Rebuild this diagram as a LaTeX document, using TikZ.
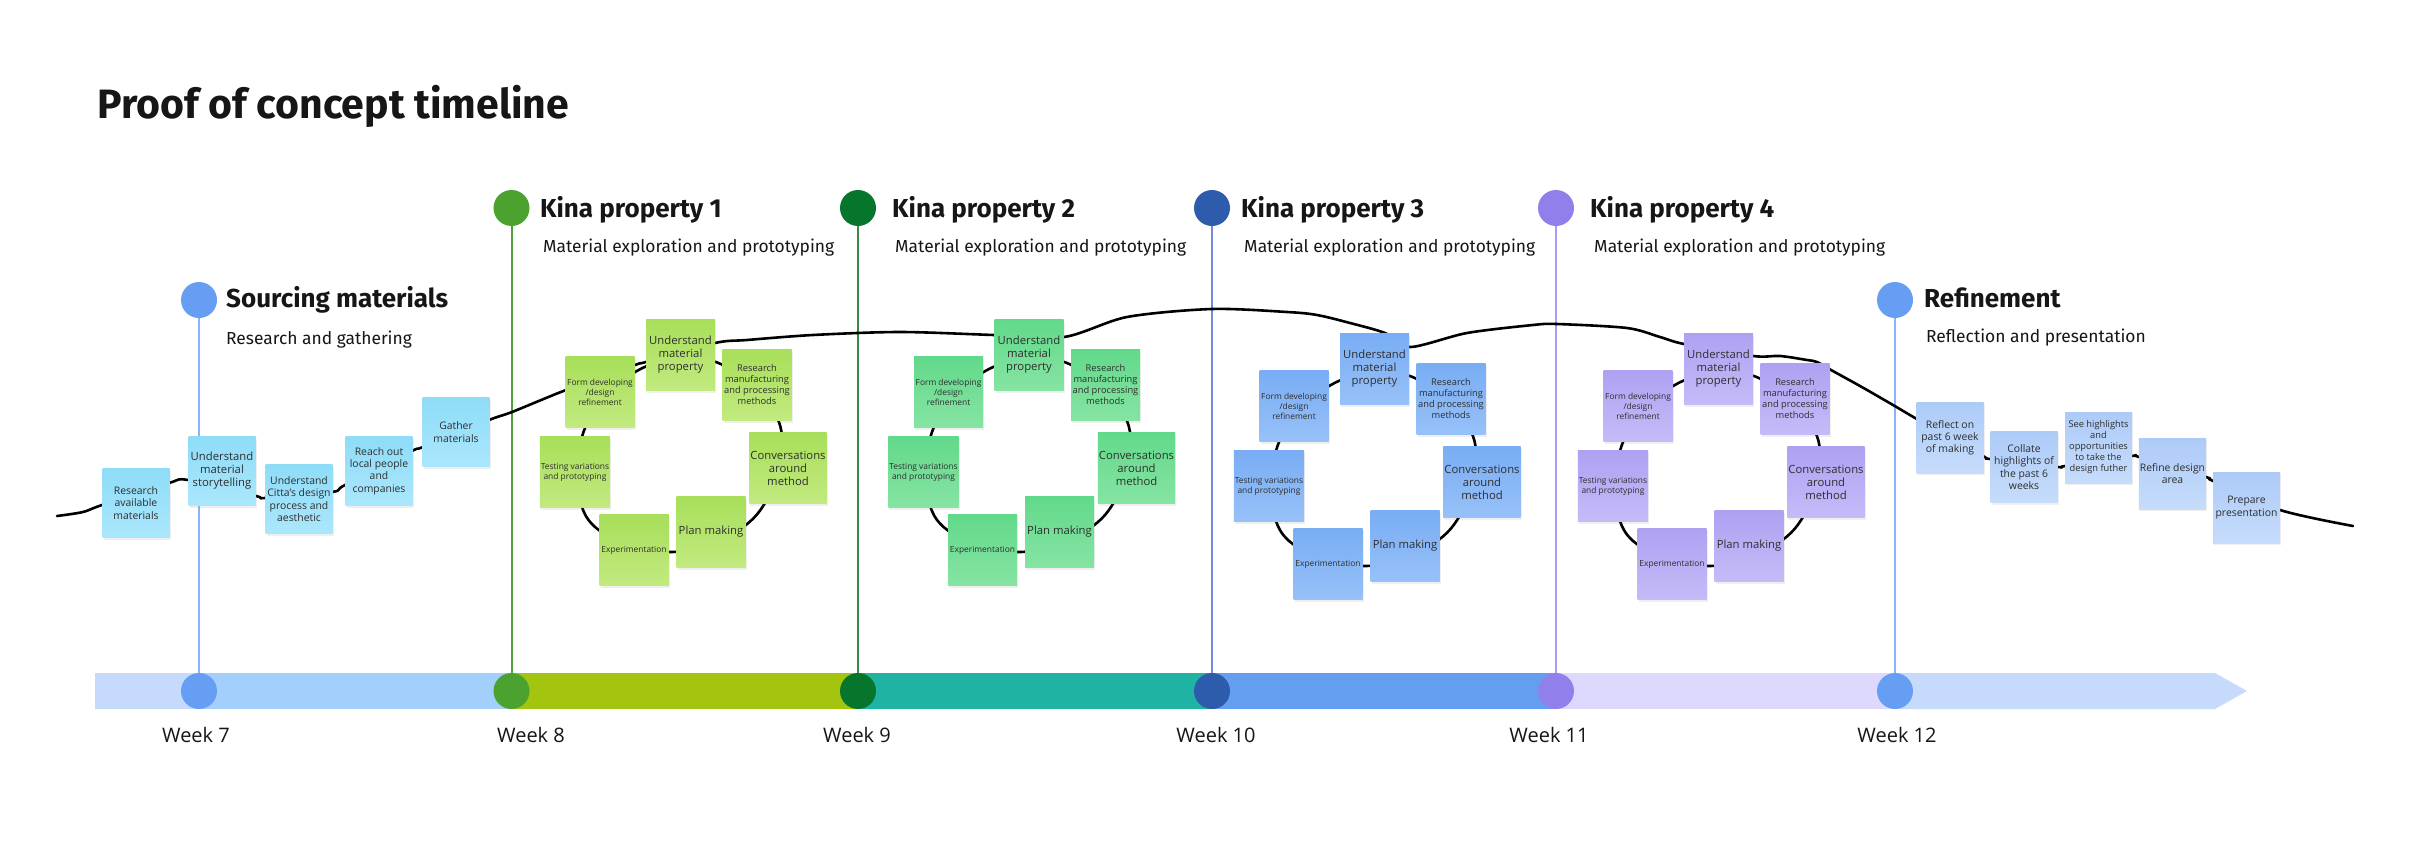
\documentclass[tikz,border=0pt]{standalone}
\usepackage{fontspec}
\setmainfont{Open Sans}
\newfontfamily\headfont{Fira Sans}
\usetikzlibrary{shadows}

\definecolor{notetext}{HTML}{2E2E2E}
\definecolor{headtext}{HTML}{161616}
\definecolor{srcT}{HTML}{8EDCF8}\definecolor{srcB}{HTML}{ABE7FC}
\definecolor{kaT}{HTML}{A8DF5A}\definecolor{kaB}{HTML}{C2EA80}
\definecolor{kbT}{HTML}{62D98A}\definecolor{kbB}{HTML}{86E4A3}
\definecolor{kcT}{HTML}{79ADF4}\definecolor{kcB}{HTML}{97C1F8}
\definecolor{kdT}{HTML}{AEA1F2}\definecolor{kdB}{HTML}{C6BBF8}
\definecolor{refT}{HTML}{ADCBF8}\definecolor{refB}{HTML}{C6DCFB}
\definecolor{barA}{HTML}{C6DBFC}
\definecolor{barB}{HTML}{A3CFFD}
\definecolor{barC}{HTML}{A3C510}
\definecolor{barD}{HTML}{1FB3A3}
\definecolor{barE}{HTML}{649EF0}
\definecolor{barF}{HTML}{DDD9FE}
\definecolor{dotA}{HTML}{659EF2}
\definecolor{dotB}{HTML}{4BA22E}
\definecolor{dotC}{HTML}{06762C}
\definecolor{dotD}{HTML}{2E5CAD}
\definecolor{dotE}{HTML}{9180EC}
\definecolor{lineA}{HTML}{8AB4F8}
\definecolor{lineB}{HTML}{4CA33A}
\definecolor{lineC}{HTML}{3B8A47}
\definecolor{lineD}{HTML}{6F8CD8}
\definecolor{lineE}{HTML}{A99CF0}

\tikzset{
  notebase/.style={rectangle, minimum width=69pt, minimum height=71pt, inner sep=1pt,
    align=center, text=notetext,
    drop shadow={shadow xshift=1pt, shadow yshift=-2pt, opacity=0.12}},
  srcnote/.style={notebase, minimum width=67pt, minimum height=69pt, top color=srcT, bottom color=srcB},
  refnote/.style={notebase, minimum width=67pt, minimum height=71pt, top color=refT, bottom color=refB},
  kanote/.style={notebase, top color=kaT, bottom color=kaB},
  kbnote/.style={notebase, top color=kbT, bottom color=kbB},
  kcnote/.style={notebase, top color=kcT, bottom color=kcB},
  kdnote/.style={notebase, top color=kdT, bottom color=kdB},
  fbig/.style={font=\fontsize{11.3}{13}\selectfont},
  fmid/.style={font=\fontsize{10.4}{12.2}\selectfont},
  fsmall/.style={font=\fontsize{9.3}{11}\selectfont},
  ftiny/.style={font=\fontsize{8.4}{10}\selectfont},
  curve/.style={line width=2.6pt, black, line cap=round, line join=round},
  dot/.style={circle, minimum size=36pt, inner sep=0pt, draw=none},
  head/.style={anchor=base west, inner sep=0pt, text=headtext,
    font=\headfont\bfseries\fontsize{26}{30}\selectfont},
  sub/.style={anchor=base west, inner sep=0pt, text=headtext,
    font=\headfont\fontsize{17.4}{21}\selectfont},
  week/.style={anchor=base, inner sep=0pt, text=headtext,
    font=\fontsize{20}{24}\selectfont},
  vline/.style={line width=2pt},
}

\newcommand\kcycle[3]{%
  \begin{scope}[shift={(#2,#3)}]
    \draw[curve] plot[smooth cycle, tension=0.6] coordinates
      {(-40,14) (38,8) (100,72) (76,160) (-8,197) (-92,165) (-97,77)};
    \node[#1note, fbig]   (#1u) at (0,0)        {Understand\\material\\property};
    \node[#1note, ftiny]  (#1f) at (-80.5,37)   {Form developing\\/design\\refinement};
    \node[#1note, fsmall] (#1r) at (76.5,30)    {Research\\manufacturing\\and processing\\methods};
    \node[#1note, ftiny]  (#1t) at (-105.5,117) {Testing variations\\and prototyping};
    \node[#1note, fbig]   (#1c) at (107.5,113)  {Conversations\\around\\method};
    \node[#1note, ftiny]  (#1e) at (-46.5,195)  {Experimentation};
    \node[#1note, fbig]   (#1p) at (30.5,177)   {Plan making};
  \end{scope}}

\begin{document}
\begin{tikzpicture}[x=1pt, y=-1pt]
\useasboundingbox (0,0) rectangle (2415,851);
\fill[white] (0,0) rectangle (2415,851);

% title
\node[anchor=base west, inner sep=0pt, text=headtext,
  font=\headfont\bfseries\fontsize{41}{48}\selectfont] (title) at (97,118) {Proof of concept timeline};

% timeline bar
\fill[barA] (95,673) rectangle (199,709);
\fill[barB] (199,673) rectangle (511.5,709);
\fill[barC] (511.5,673) rectangle (858,709);
\fill[barD] (858,673) rectangle (1212,709);
\fill[barE] (1212,673) rectangle (1556,709);
\fill[barF] (1556,673) rectangle (1895,709);
\fill[barA] (1895,673) -- (2215,673) -- (2247,691) -- (2215,709) -- (1895,709) -- cycle;

% dots
\node[dot, fill=dotA] (h1) at (199,300) {};
\node[dot, fill=dotB] (h2) at (511.5,208) {};
\node[dot, fill=dotC] (h3) at (858,208) {};
\node[dot, fill=dotD] (h4) at (1212,208) {};
\node[dot, fill=dotE] (h5) at (1556,208) {};
\node[dot, fill=dotA] (h6) at (1895,300) {};
\node[dot, fill=dotA] (b1) at (199,691) {};
\node[dot, fill=dotB] (b2) at (511.5,691) {};
\node[dot, fill=dotC] (b3) at (858,691) {};
\node[dot, fill=dotD] (b4) at (1212,691) {};
\node[dot, fill=dotE] (b5) at (1556,691) {};
\node[dot, fill=dotA] (b6) at (1895,691) {};

% vertical lines
\draw[vline, lineA] (h1) -- (b1);
\draw[vline, lineB] (h2) -- (b2);
\draw[vline, lineC] (h3) -- (b3);
\draw[vline, lineD] (h4) -- (b4);
\draw[vline, lineE] (h5) -- (b5);
\draw[vline, lineA] (h6) -- (b6);

% main curve
\draw[curve] plot[smooth, tension=0.5] coordinates {
 (57,516) (83,512) (102,505) (169,483) (188,480) (256,496) (265,498) (332,492)
 (345,485) (412,451) (423,447) (489,420) (512,412) (566,390) (635,365) (646,362)
 (715,343) (747,340) (813,335) (900,332) (994,335) (1064,337) (1127,317) (1212,309)
 (1287,312) (1317,315) (1350,323) (1385,333) (1410,347) (1467,333) (1533,325)
 (1557,324) (1627,328) (1660,337) (1684,344) (1753,356) (1780,356) (1807,360)
 (1817,362) (1831,370) (1860,386) (1893,405) (1922,422) (1983,456) (1990,459)
 (2058,467) (2065,466) (2132,456) (2139,457) (2206,477) (2213,481) (2280,510)
 (2353,526)};

% cycles
\kcycle{ka}{680.5}{355}
\kcycle{kb}{1029}{355}
\kcycle{kc}{1374.5}{369}
\kcycle{kd}{1718.5}{369}

% sourcing notes
\node[srcnote, fmid] (s1) at (136,503) {Research\\available\\materials};
\node[srcnote, fbig] (s2) at (222,471) {Understand\\material\\storytelling};
\node[srcnote, fmid] (s3) at (299,499) {Understand\\Citta's design\\process and\\aesthetic};
\node[srcnote, fmid] (s4) at (379,471) {Reach out\\local people\\and\\companies};
\node[srcnote, fmid] (s5) at (456,432) {Gather\\materials};

% refinement notes
\node[refnote, fmid] (r1) at (1950,437.5) {Reflect on\\past 6 week\\of making};
\node[refnote, fmid] (r2) at (2024,467) {Collate\\highlights of\\the past 6\\weeks};
\node[refnote, fsmall] (r3) at (2098.5,447.5) {See highlights\\and\\opportunities\\to take the\\design futher};
\node[refnote, fmid] (r4) at (2172.5,473.5) {Refine design\\area};
\node[refnote, fmid] (r5) at (2246.5,507.5) {Prepare\\presentation};

% headings
\node[head] (t1) at (226,307) {Sourcing materials};
\node[sub] (u1) at (226,344) {Research and gathering};
\node[head] (t2) at (540,217) {Kina property 1};
\node[sub] (u2) at (543,252) {Material exploration and prototyping};
\node[head] (t3) at (892,217) {Kina property 2};
\node[sub] (u3) at (895,252) {Material exploration and prototyping};
\node[head] (t4) at (1241,217) {Kina property 3};
\node[sub] (u4) at (1244,252) {Material exploration and prototyping};
\node[head] (t5) at (1590,217) {Kina property 4};
\node[sub] (u5) at (1594,252) {Material exploration and prototyping};
\node[head] (t6) at (1924,307) {Refinement};
\node[sub] (u6) at (1926,342) {Reflection and presentation};

% week labels
\node[week] (w7) at (196,742) {Week 7};
\node[week] (w8) at (531,742) {Week 8};
\node[week] (w9) at (857,742) {Week 9};
\node[week] (w10) at (1216,742) {Week 10};
\node[week] (w11) at (1549,742) {Week 11};
\node[week] (w12) at (1897,742) {Week 12};
\end{tikzpicture}
\end{document}
